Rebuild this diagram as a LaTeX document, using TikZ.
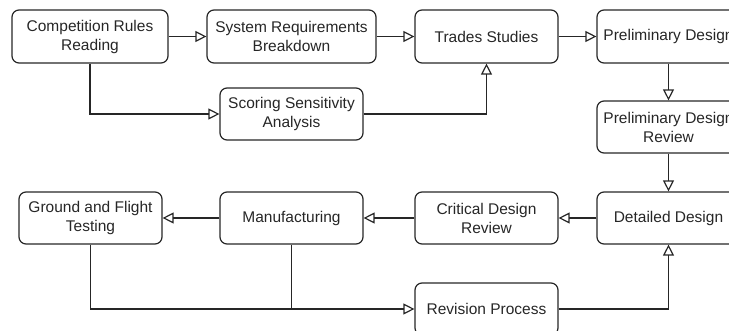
\documentclass[tikz,border=0pt]{standalone}
\usepackage{fontspec}
\setmainfont{Liberation Sans}
\usetikzlibrary{arrows.meta}
\begin{document}
\begin{tikzpicture}[x=1pt,y=-1pt,
  box/.style={draw=black!85, line width=1.2pt, rounded corners=7pt, align=center,
    minimum width=143pt, minimum height=52pt, inner sep=0pt,
    font=\fontsize{15.5}{19}\selectfont, text=black!85},
  arr/.style={draw=black!85, line width=1.2pt, -{Triangle[open, length=11pt, width=11pt]}},
  ln/.style={draw=black!85, line width=1.2pt}]
\useasboundingbox (0,0) rectangle (729,331);
\clip (0,0) rectangle (729,331);
\node[box, minimum width=156pt, minimum height=53pt] (comp) at (90,36.5) {Competition Rules\\Reading};
\node[box, minimum width=169pt, minimum height=53pt] (sys) at (291.5,36.5) {System Requirements\\Breakdown};
\node[box, minimum height=53pt] (trades) at (486.5,36.5) {Trades Studies};
\node[box, minimum height=53pt] (prelim) at (668.5,36.5) {Preliminary Design};
\node[box] (score) at (291.5,114) {Scoring Sensitivity\\Analysis};
\node[box] (pdr) at (668.5,127) {Preliminary Design\\Review};
\node[box] (ground) at (90.5,218) {Ground and Flight\\Testing};
\node[box] (manu) at (291.5,218) {Manufacturing};
\node[box] (cdr) at (486.5,218) {Critical Design\\Review};
\node[box] (det) at (668.5,218) {Detailed Design};
\node[box] (rev) at (486.5,309) {Revision Process};
\draw[arr] (comp) -- (sys);
\draw[arr] (sys) -- (trades);
\draw[arr] (trades) -- (prelim);
\draw[arr] (comp.south) |- (score.west);
\draw[arr] (score.east) -| (trades.south);
\draw[arr] (prelim) -- (pdr);
\draw[arr] (pdr) -- (det);
\draw[arr] (det) -- (cdr);
\draw[arr] (cdr) -- (manu);
\draw[arr] (manu) -- (ground);
\draw[arr] (ground.south) |- (rev.west);
\draw[ln] (manu.south) -- (manu.south |- rev.west);
\draw[arr] (rev.east) -| (det.south);
\end{tikzpicture}
\end{document}
